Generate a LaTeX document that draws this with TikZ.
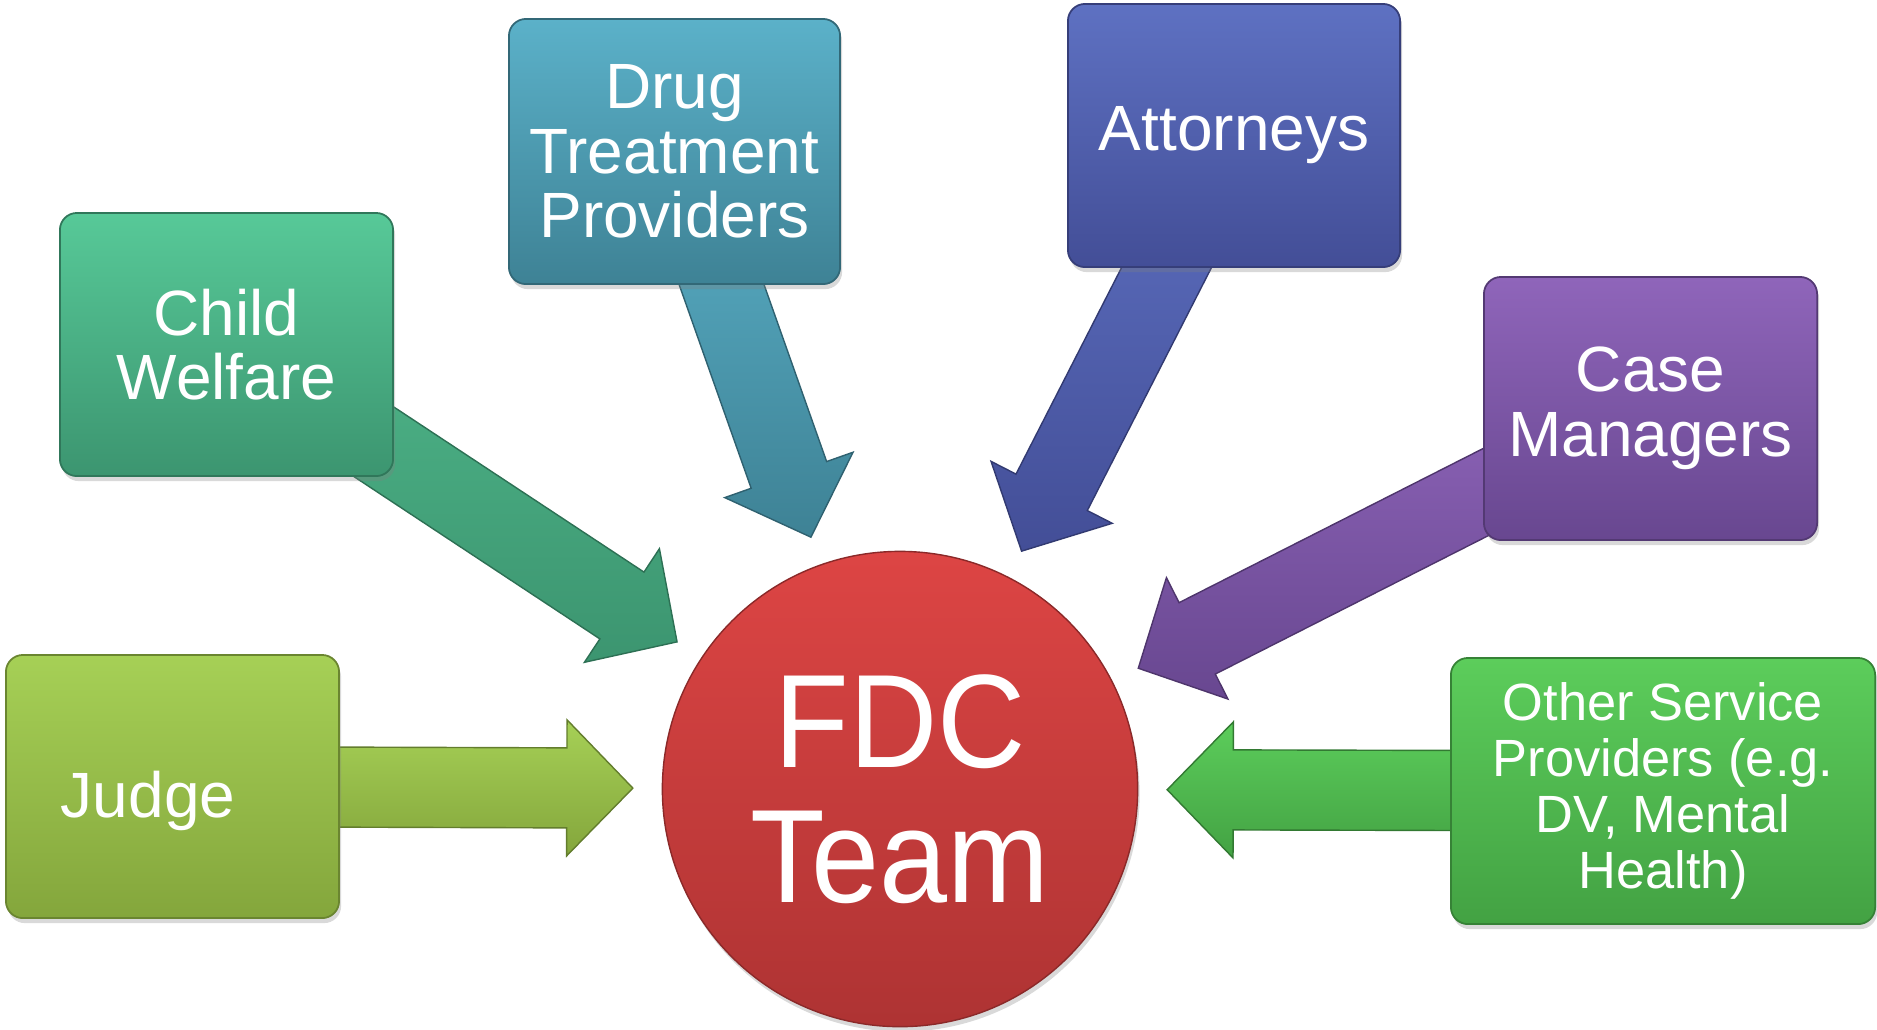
\documentclass[tikz,border=0pt]{standalone}
\usepackage{fontspec}
\setmainfont{Liberation Sans}
\newfontfamily\teamfont[FakeStretch=0.92]{Liberation Sans}
\usepackage{tikz}
\usetikzlibrary{calc,shadows,backgrounds}

\definecolor{judgetop}{HTML}{A6D056}
\definecolor{judgebot}{HTML}{84A63C}
\definecolor{welfaretop}{HTML}{57C998}
\definecolor{welfarebot}{HTML}{3C9570}
\definecolor{drugtop}{HTML}{5BB1C9}
\definecolor{drugbot}{HTML}{3E8295}
\definecolor{attytop}{HTML}{5E71C2}
\definecolor{attybot}{HTML}{434E97}
\definecolor{casetop}{HTML}{8F65BA}
\definecolor{casebot}{HTML}{684790}
\definecolor{othertop}{HTML}{5CCD5B}
\definecolor{otherbot}{HTML}{43A243}
\definecolor{fdctop}{HTML}{DD4544}
\definecolor{fdcbot}{HTML}{AE3333}

\tikzset{
  team box/.style 2 args={rectangle, rounded corners=0.17cm,
    minimum width=3.33cm, minimum height=2.63cm, align=center,
    text=white, font=\fontsize{18.2}{18.4}\selectfont,
    top color=#1, bottom color=#2, draw=#2!80!black, line width=0.5pt,
    drop shadow={shadow xshift=0.02cm, shadow yshift=-0.05cm, opacity=0.3}},
  team arrow/.style 2 args={top color=#1, bottom color=#2,
    draw=#2!75!black, line width=0.4pt}
}

% block arrow from a box towards the FDC circle
\newcommand{\feedarrow}[3]{%
  \coordinate (#1-tip) at ($(fdc.center)!2.67cm!(#1.center)$);
  \coordinate (#1-neck) at ($(#1-tip)!0.66cm!(#1.center)$);
  \path[team arrow={#2}{#3}]
    ($(#1.center)!0.4cm!90:(#1-tip)$) -- ($(#1-neck)!0.4cm!-90:(#1.center)$)
    -- ($(#1-neck)!0.68cm!-90:(#1.center)$) -- (#1-tip)
    -- ($(#1-neck)!0.68cm!90:(#1.center)$) -- ($(#1-neck)!0.4cm!90:(#1.center)$)
    -- ($(#1.center)!0.4cm!-90:(#1-tip)$) -- cycle;
}

\begin{document}
\begin{tikzpicture}[x=0.01cm,y=-0.01cm]
		\useasboundingbox (0,0) rectangle (1877,1029);

		% centre
		\node[circle, minimum size=4.75cm, inner sep=0pt, align=center,
			top color=fdctop, bottom color=fdcbot, draw=fdcbot!80!black,
			text=white, font=\teamfont\fontsize{37.8}{38.4}\selectfont,
			drop shadow={shadow xshift=0.02cm, shadow yshift=-0.05cm, opacity=0.3}]
			(fdc) at (900,789) {FDC\\Team};

		% partners
		\node[team box={judgetop}{judgebot}, text width=2.23cm, inner xsep=0.55cm, align=left,
			text height=0.75cm, text depth=0.14cm]
			(judge) at (172.5,786.5) {Judge};
		\node[team box={welfaretop}{welfarebot}] (welfare) at (226.5,344.5) {Child\\Welfare};
		\node[team box={drugtop}{drugbot}, minimum width=3.31cm, minimum height=2.65cm]
			(drug) at (674.5,151.5) {Drug\\Treatment\\Providers};
		\node[team box={attytop}{attybot}, minimum width=3.32cm] (attorneys) at (1234,135.5) {Attorneys};
		\node[team box={casetop}{casebot}] (managers) at (1650.5,408.5) {Case\\Managers};
		\node[team box={othertop}{otherbot}, minimum width=4.24cm, minimum height=2.66cm,
			font=\fontsize{14.9}{15.9}\selectfont]
			(others) at (1663,791) {Other Service\\Providers (e.g.\\DV, Mental\\Health)};

		% arrows into the team
		\begin{scope}[on background layer]
			\feedarrow{judge}{judgetop}{judgebot}
			\feedarrow{welfare}{welfaretop!90!black}{welfarebot}
			\feedarrow{drug}{drugtop}{drugbot}
			\feedarrow{attorneys}{attytop}{attybot}
			\feedarrow{managers}{casetop}{casebot}
			\feedarrow{others}{othertop}{otherbot}
		\end{scope}
	\end{tikzpicture}
\end{document}
